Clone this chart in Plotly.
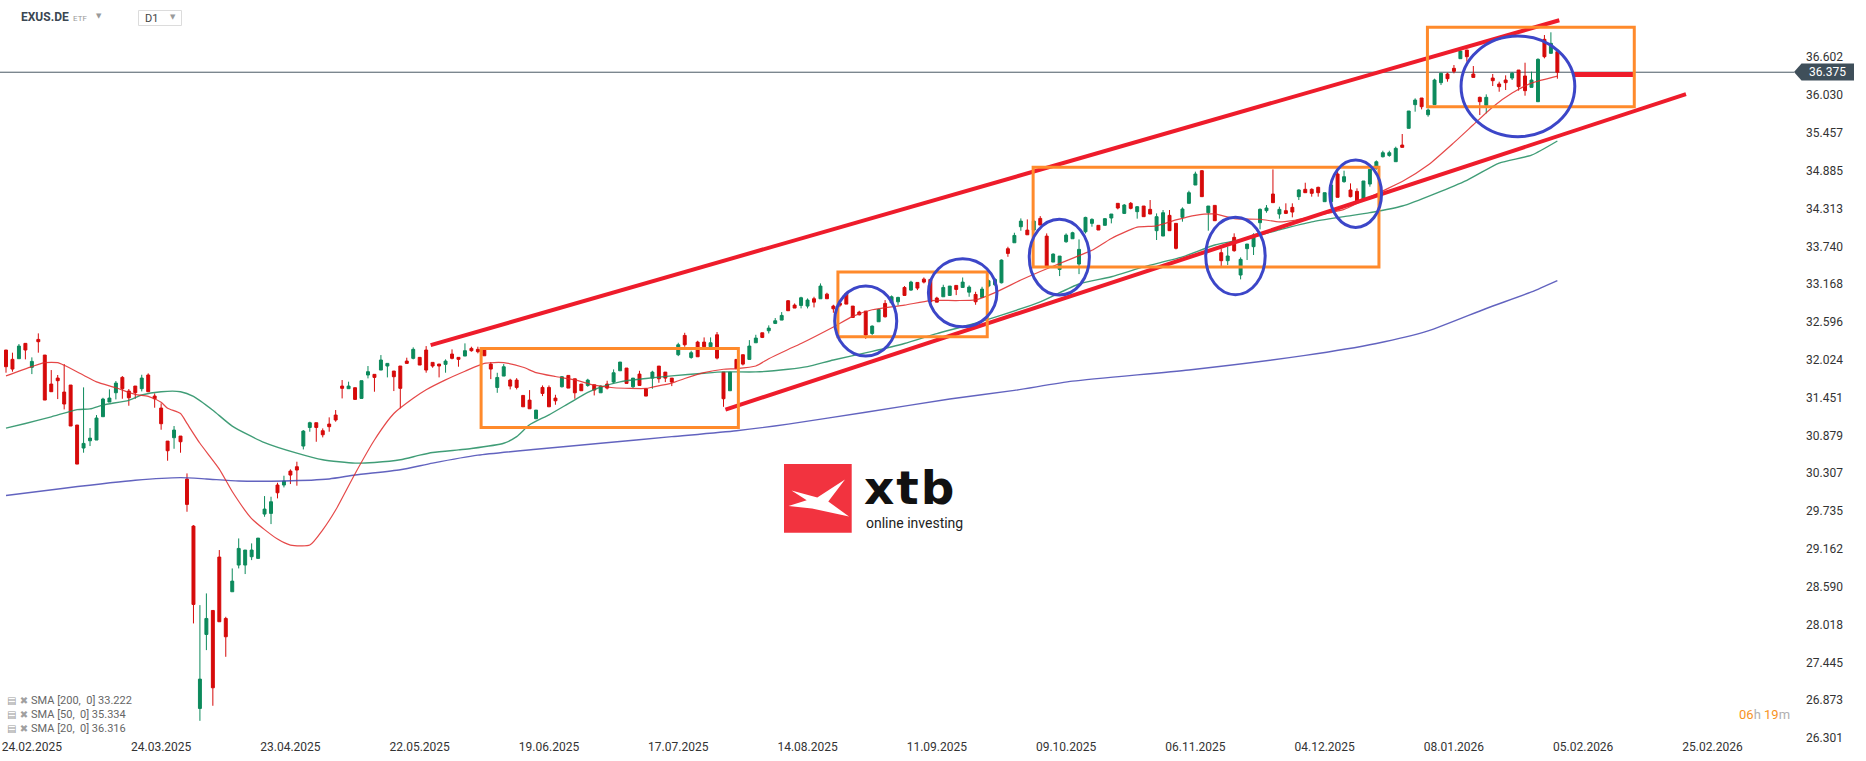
import plotly.graph_objects as go

# ---------------- data ----------------
opens = [32.171, 32.030, 32.040, 32.272, 31.909, 32.332, 32.095, 31.656, 31.747, 31.535,
         31.641, 31.036, 30.688, 30.798, 30.809, 31.162, 31.384, 31.525, 31.757, 31.550,
         31.626, 31.586, 31.793, 31.475, 31.293, 30.793, 30.844, 30.869, 30.218, 29.507,
         26.747, 27.867, 28.230, 29.038, 28.109, 28.513, 28.917, 28.917, 29.043, 29.018,
         29.689, 29.699, 30.128, 30.128, 30.339, 30.405, 30.718, 30.999, 31.071, 30.950,
         31.051, 31.187, 31.626, 31.586, 31.601, 31.439, 31.793, 31.803, 31.868, 31.929,
         31.853, 31.929, 32.004, 32.045, 32.060, 32.171, 31.984, 31.959, 31.954, 32.110,
         32.060, 32.080, 32.196, 32.181, 32.170, 31.958, 31.605, 31.777, 31.716, 31.716,
         31.484, 31.413, 31.131, 31.605, 31.605, 31.444, 31.615, 31.787, 31.736, 31.656,
         31.635, 31.645, 31.524, 31.656, 31.686, 31.857, 31.898, 31.615, 31.807, 31.585,
         31.746, 31.928, 31.837, 31.746, 32.100, 32.392, 32.059, 32.291, 32.291, 32.221,
         32.402, 31.837, 31.555, 32.029, 32.100, 32.029, 32.281, 32.432, 32.463, 32.574,
         32.624, 32.917, 32.851, 32.846, 32.836, 32.947, 32.947, 33.017, 32.836, 32.880,
         33.028, 32.836, 32.745, 32.760, 32.422, 32.599, 32.876, 32.886, 32.901, 33.118,
         33.078, 33.194, 33.244, 33.239, 32.957, 32.977, 32.997, 33.149, 33.118, 33.047,
         33.012, 32.967, 33.139, 33.159, 33.189, 33.704, 33.794, 34.037, 33.986, 33.986,
         34.163, 33.895, 33.502, 33.391, 33.810, 33.855, 33.472, 33.961, 34.088, 34.058,
         34.058, 34.169, 34.391, 34.239, 34.391, 34.265, 34.350, 34.300, 33.977, 33.896,
         34.209, 34.088, 34.179, 34.391, 34.668, 34.885, 34.249, 34.360, 33.644, 33.523,
         33.876, 33.306, 33.705, 33.735, 34.098, 34.280, 34.532, 34.229, 34.280, 34.330,
         34.492, 34.603, 34.603, 34.633, 34.416, 34.416, 34.835, 34.719, 34.593, 34.572,
         34.441, 34.683, 34.920, 35.096, 35.116, 35.021, 35.273, 35.526, 35.884, 35.985,
         35.732, 35.884, 36.217, 36.348, 36.434, 36.580, 36.711, 36.348, 35.995, 35.874,
         36.287, 36.197, 36.257, 36.287, 36.408, 36.318, 36.146, 35.929, 36.873, 36.661,
         36.686]
highs = [32.171, 32.131, 32.262, 32.272, 32.060, 32.423, 32.095, 31.868, 31.793, 31.959,
         31.641, 31.036, 31.606, 30.990, 31.187, 31.449, 31.576, 31.702, 31.777, 31.581,
         31.626, 31.797, 31.818, 31.515, 31.364, 30.793, 31.021, 30.869, 30.304, 29.522,
         28.311, 28.488, 28.230, 29.144, 28.134, 28.866, 29.320, 29.144, 29.245, 29.325,
         29.961, 29.951, 30.163, 30.269, 30.365, 30.481, 30.960, 31.086, 31.071, 30.985,
         31.152, 31.263, 31.717, 31.692, 31.601, 31.707, 31.929, 31.803, 32.095, 31.969,
         31.853, 31.929, 32.055, 32.211, 32.060, 32.231, 31.984, 31.959, 32.030, 32.181,
         32.060, 32.272, 32.221, 32.221, 32.170, 31.989, 31.827, 31.958, 31.736, 31.746,
         31.484, 31.565, 31.262, 31.635, 31.635, 31.494, 31.777, 31.787, 31.736, 31.656,
         31.736, 31.645, 31.635, 31.706, 31.878, 31.989, 31.898, 31.746, 31.857, 31.585,
         31.857, 31.928, 31.837, 31.746, 32.281, 32.432, 32.160, 32.311, 32.362, 32.362,
         32.443, 31.837, 31.837, 32.029, 32.100, 32.321, 32.402, 32.432, 32.544, 32.655,
         32.745, 32.927, 32.876, 32.977, 32.952, 32.977, 33.179, 33.038, 32.856, 32.900,
         33.048, 32.836, 32.765, 32.760, 32.543, 32.795, 32.927, 32.997, 32.977, 33.139,
         33.219, 33.194, 33.269, 33.239, 32.977, 33.159, 33.139, 33.149, 33.269, 33.149,
         33.053, 33.128, 33.239, 33.259, 33.542, 33.734, 33.946, 34.163, 34.148, 34.140,
         34.198, 33.936, 33.633, 33.593, 33.936, 33.961, 33.845, 34.188, 34.164, 34.058,
         34.169, 34.229, 34.391, 34.381, 34.411, 34.350, 34.350, 34.441, 34.239, 34.290,
         34.290, 34.088, 34.330, 34.582, 34.870, 34.895, 34.350, 34.360, 33.710, 33.735,
         33.937, 33.573, 33.775, 33.937, 34.315, 34.365, 34.905, 34.340, 34.391, 34.391,
         34.603, 34.703, 34.618, 34.643, 34.552, 34.719, 34.895, 34.885, 34.693, 34.618,
         34.729, 34.905, 35.040, 35.187, 35.187, 35.248, 35.440, 35.788, 35.980, 35.985,
         35.828, 36.277, 36.368, 36.368, 36.484, 36.711, 36.711, 36.469, 36.005, 36.040,
         36.348, 36.232, 36.328, 36.378, 36.408, 36.519, 36.383, 36.585, 36.938, 36.979,
         36.686]
lows = [31.828, 31.843, 32.040, 32.030, 31.807, 32.131, 31.414, 31.540, 31.429, 31.273,
        31.021, 30.445, 30.617, 30.718, 30.809, 31.162, 31.384, 31.424, 31.434, 31.328,
        31.434, 31.545, 31.540, 31.298, 30.965, 30.496, 30.677, 30.617, 29.724, 28.034,
        26.560, 27.630, 26.788, 28.059, 27.529, 28.513, 28.866, 28.781, 28.992, 29.018,
        29.648, 29.537, 29.926, 30.092, 30.143, 30.118, 30.667, 30.935, 30.783, 30.849,
        30.935, 31.086, 31.439, 31.586, 31.424, 31.439, 31.742, 31.540, 31.868, 31.757,
        31.550, 31.288, 31.969, 32.030, 31.944, 31.828, 31.903, 31.757, 31.828, 32.030,
        31.919, 32.080, 32.146, 32.121, 32.084, 31.731, 31.524, 31.777, 31.575, 31.575,
        31.312, 31.282, 31.131, 31.474, 31.312, 31.343, 31.605, 31.595, 31.434, 31.555,
        31.615, 31.484, 31.524, 31.575, 31.666, 31.857, 31.666, 31.595, 31.635, 31.474,
        31.585, 31.676, 31.686, 31.625, 32.079, 32.221, 32.039, 32.069, 32.221, 32.221,
        32.029, 31.312, 31.555, 31.888, 31.938, 32.029, 32.281, 32.352, 32.422, 32.564,
        32.624, 32.766, 32.806, 32.801, 32.801, 32.816, 32.947, 32.947, 32.735, 32.820,
        32.866, 32.664, 32.695, 32.341, 32.397, 32.599, 32.664, 32.866, 32.846, 32.997,
        33.068, 33.078, 33.179, 32.901, 32.896, 32.977, 32.997, 33.002, 33.118, 32.977,
        32.856, 32.967, 33.118, 33.139, 33.179, 33.582, 33.794, 33.976, 33.915, 33.960,
        34.062, 33.441, 33.502, 33.290, 33.794, 33.855, 33.320, 33.935, 34.037, 33.987,
        34.058, 34.088, 34.300, 34.229, 34.300, 34.159, 34.189, 34.229, 33.836, 33.896,
        33.977, 33.694, 34.113, 34.391, 34.668, 34.492, 33.977, 34.128, 33.442, 33.457,
        33.659, 33.240, 33.533, 33.609, 33.997, 34.249, 34.401, 34.159, 34.229, 34.179,
        34.441, 34.552, 34.492, 34.492, 34.416, 34.416, 34.482, 34.703, 34.481, 34.401,
        34.441, 34.643, 34.900, 35.086, 35.096, 35.021, 35.238, 35.526, 35.778, 35.813,
        35.702, 35.884, 36.181, 36.232, 36.358, 36.580, 36.535, 36.297, 35.727, 35.753,
        36.166, 36.080, 36.106, 36.257, 36.096, 36.020, 36.146, 35.929, 36.585, 36.661,
        36.277]
closes = [31.919, 31.883, 32.231, 32.171, 31.999, 32.297, 31.414, 31.540, 31.707, 31.354,
          31.021, 30.445, 30.758, 30.838, 31.142, 31.429, 31.444, 31.671, 31.586, 31.449,
          31.525, 31.747, 31.540, 31.434, 31.056, 30.647, 30.960, 30.783, 29.835, 28.321,
          27.191, 28.109, 27.060, 28.059, 27.832, 28.674, 29.169, 29.144, 29.144, 29.325,
          29.764, 29.875, 30.011, 30.188, 30.279, 30.355, 30.944, 31.071, 30.999, 30.889,
          31.011, 31.112, 31.591, 31.626, 31.424, 31.707, 31.843, 31.757, 32.020, 31.969,
          31.767, 31.591, 31.969, 32.181, 31.944, 31.868, 31.929, 31.929, 32.004, 32.045,
          32.030, 32.161, 32.161, 32.146, 32.084, 31.883, 31.756, 31.918, 31.625, 31.605,
          31.312, 31.282, 31.262, 31.514, 31.312, 31.403, 31.767, 31.595, 31.524, 31.555,
          31.716, 31.565, 31.625, 31.595, 31.827, 31.989, 31.666, 31.746, 31.635, 31.474,
          31.837, 31.736, 31.746, 31.686, 32.251, 32.251, 32.130, 32.069, 32.221, 32.281,
          32.049, 31.434, 31.837, 31.888, 31.958, 32.231, 32.352, 32.362, 32.503, 32.614,
          32.695, 32.766, 32.806, 32.962, 32.927, 32.896, 33.139, 32.947, 32.795, 32.850,
          32.866, 32.664, 32.705, 32.397, 32.533, 32.785, 32.674, 32.977, 32.967, 32.997,
          33.199, 33.108, 33.199, 32.901, 32.896, 33.118, 33.139, 33.088, 33.199, 33.123,
          32.901, 33.093, 33.219, 33.239, 33.532, 33.633, 33.905, 34.122, 33.915, 34.122,
          34.062, 33.441, 33.623, 33.593, 33.910, 33.946, 33.694, 34.178, 34.148, 33.987,
          34.159, 34.229, 34.320, 34.365, 34.315, 34.340, 34.189, 34.229, 34.189, 34.249,
          33.977, 33.710, 34.305, 34.552, 34.835, 34.492, 34.350, 34.128, 33.523, 33.594,
          33.674, 33.543, 33.775, 33.912, 34.300, 34.320, 34.401, 34.300, 34.239, 34.259,
          34.593, 34.552, 34.542, 34.552, 34.552, 34.668, 34.482, 34.794, 34.492, 34.411,
          34.729, 34.905, 35.020, 35.157, 35.157, 35.223, 35.238, 35.788, 35.954, 35.853,
          35.803, 36.257, 36.358, 36.277, 36.388, 36.696, 36.610, 36.297, 35.929, 35.995,
          36.247, 36.156, 36.217, 36.358, 36.156, 36.096, 36.257, 36.570, 36.610, 36.812,
          36.375]

sma20_bars = [0, 4, 6, 8, 9, 12, 14, 17, 20, 22, 24, 25, 27, 28, 30, 33, 35, 38, 42, 44,
              47, 49, 51, 54, 57, 60, 63, 65, 68, 71, 74, 77, 80, 82, 85, 88, 91, 94, 99, 100,
              103, 105, 108, 111, 113, 116, 118, 121, 123, 128, 131, 134, 139, 143, 147, 150,
              153, 157, 160, 164, 166, 168, 171, 175, 178, 181, 184, 187, 190, 194, 197, 199,
              202, 207, 210, 213, 216, 220, 224, 227, 230, 233, 236, 240]
sma20_vals = [31.78, 31.92, 31.98, 31.98, 31.94, 31.79, 31.69, 31.60, 31.50, 31.47, 31.38,
              31.29, 31.21, 31.06, 30.76, 30.37, 30.03, 29.62, 29.31, 29.22, 29.22, 29.45,
              29.75, 30.30, 30.81, 31.21, 31.44, 31.57, 31.72, 31.85, 31.97, 31.98, 31.91,
              31.83, 31.77, 31.72, 31.64, 31.60, 31.59, 31.61, 31.67, 31.74, 31.83, 31.88,
              31.89, 31.93, 32.04, 32.18, 32.27, 32.52, 32.68, 32.78, 32.85, 32.92, 32.92,
              32.93, 33.04, 33.23, 33.36, 33.52, 33.60, 33.68, 33.86, 34.03, 34.05, 34.14,
              34.21, 34.23, 34.16, 34.15, 34.11, 34.13, 34.19, 34.30, 34.44, 34.58, 34.72,
              34.97, 35.31, 35.58, 35.85, 36.06, 36.21, 36.316]

sma50_bars = [0, 3, 7, 11, 13, 15, 19, 21, 24, 27, 29, 32, 35, 40, 45, 49, 54, 57, 61, 64,
              66, 70, 72, 77, 79, 81, 84, 87, 90, 92, 95, 99, 103, 108, 111, 116, 121, 124,
              128, 134, 139, 144, 149, 154, 160, 166, 171, 176, 182, 187, 192, 197, 202, 207,
              211, 216, 226, 231, 236, 240]
sma50_vals = [30.99, 31.06, 31.16, 31.27, 31.28, 31.34, 31.41, 31.49, 31.54, 31.54, 31.47,
              31.26, 31.02, 30.77, 30.61, 30.51, 30.46, 30.47, 30.51, 30.58, 30.62, 30.66,
              30.68, 30.76, 30.86, 31.04, 31.19, 31.36, 31.53, 31.61, 31.69, 31.74, 31.78,
              31.82, 31.84, 31.84, 31.88, 31.92, 32.02, 32.15, 32.27, 32.42, 32.55, 32.70,
              32.90, 33.17, 33.28, 33.43, 33.58, 33.76, 33.86, 33.99, 34.11, 34.19, 34.25,
              34.35, 34.74, 35.00, 35.12, 35.334]

sma200_bars = [0, 9, 20, 27, 31, 36, 43, 50, 54, 61, 66, 73, 82, 92, 103, 113, 121, 133,
               146, 156, 165, 183, 201, 212, 220, 229, 236, 240]
sma200_vals = [29.97, 30.08, 30.20, 30.24, 30.22, 30.19, 30.19, 30.22, 30.28, 30.36, 30.46,
               30.58, 30.67, 30.76, 30.86, 30.95, 31.05, 31.23, 31.43, 31.56, 31.70, 31.87,
               32.09, 32.27, 32.46, 32.80, 33.05, 33.222]

x_tick_labels = ["24.02.2025", "24.03.2025", "23.04.2025", "22.05.2025", "19.06.2025",
                 "17.07.2025", "14.08.2025", "11.09.2025", "09.10.2025", "06.11.2025",
                 "04.12.2025", "08.01.2026", "05.02.2026", "25.02.2026"]
y_tick_labels = ["26.301", "26.873", "27.445", "28.018", "28.590", "29.162", "29.735",
                 "30.307", "30.879", "31.451", "32.024", "32.596", "33.168", "33.740",
                 "34.313", "34.885", "35.457", "36.030", "36.602"]

last_price = 36.375
sma_legend = [("SMA [200,\u00a0 0]", 33.222), ("SMA [50,\u00a0 0]", 35.334), ("SMA [20,\u00a0 0]", 36.316)]

# analysis drawings (bar index, price)
trend_upper = (65.7, 32.245, 240.3, 37.162)
trend_lower = (111.3, 31.27, 259.9, 36.045)
target_level = (242.4, 251.7, 36.34)
boxes = [(73.5, 31.000, 113.3, 32.196),
         (128.7, 32.372, 151.8, 33.351),
         (158.9, 33.427, 212.4, 34.936),
         (219.9, 35.853, 251.9, 37.055)]
ellipses = [(128.2, 32.080, 137.8, 33.139),
            (142.7, 32.523, 153.3, 33.552),
            (158.3, 33.003, 167.6, 34.149),
            (185.6, 33.007, 194.8, 34.179),
            (204.8, 34.027, 212.8, 35.046),
            (225.1, 35.399, 242.7, 36.923)]

# ---------------- figure ----------------
bars = list(range(len(closes)))
first_tick_bar, tick_step = 4, 20
tick_bars = [first_tick_bar + tick_step * k for k in range(len(x_tick_labels))]

W, H = 1866, 761
ML, MR, MT, MB = 0, 71, 0, 23
PW, PH = W - ML - MR, H - MT - MB
BAR_PX = 6.464
X0_PX = 6.0
x_range = [-X0_PX / BAR_PX, (PW - X0_PX) / BAR_PX]
y_range = [26.30, 37.468]


def px(xp):
    return (xp - ML) / PW


def py(yp):
    return 1 - (yp - MT) / PH


GREEN = "#0c8a5c"
RED = "#d60a0a"
FONT = "Roboto"

fig = go.Figure()
fig.add_trace(go.Scatter(x=sma200_bars, y=sma200_vals, mode="lines",
                         line=dict(color="rgba(70,72,180,0.85)", width=1.4, shape="spline", smoothing=0.6),
                         hoverinfo="skip"))
fig.add_trace(go.Scatter(x=sma50_bars, y=sma50_vals, mode="lines",
                         line=dict(color="rgba(30,140,95,0.85)", width=1.4, shape="spline", smoothing=0.6),
                         hoverinfo="skip"))
fig.add_trace(go.Scatter(x=sma20_bars, y=sma20_vals, mode="lines",
                         line=dict(color="rgba(225,40,40,0.85)", width=1.2, shape="spline", smoothing=0.6),
                         hoverinfo="skip"))
fig.add_trace(go.Candlestick(
    x=bars, open=opens, high=highs, low=lows, close=closes,
    increasing=dict(line=dict(color=GREEN, width=1), fillcolor=GREEN),
    decreasing=dict(line=dict(color=RED, width=1), fillcolor=RED),
    whiskerwidth=0,
))

shapes = []
# price line
shapes.append(dict(type="line", xref="paper", yref="y", x0=0, x1=px(1794), y0=last_price, y1=last_price,
                   line=dict(color="#4a5964", width=1), layer="below"))
# trend lines
for (xa, ya, xb, yb) in (trend_upper, trend_lower):
    shapes.append(dict(type="line", x0=xa, y0=ya, x1=xb, y1=yb, line=dict(color="#ee1c2b", width=4)))
shapes.append(dict(type="line", x0=target_level[0], x1=target_level[1], y0=target_level[2], y1=target_level[2],
                   line=dict(color="#ee1c2b", width=5)))
for (xa, ya, xb, yb) in boxes:
    shapes.append(dict(type="rect", x0=xa, y0=ya, x1=xb, y1=yb, line=dict(color="#ff8a2b", width=3)))
for (xa, ya, xb, yb) in ellipses:
    shapes.append(dict(type="circle", x0=xa, y0=ya, x1=xb, y1=yb, line=dict(color="#3c46c8", width=3)))

# price tag
tag = [(1794, 72), (1801.5, 63.5), (1854, 63.5), (1854, 80.5), (1801.5, 80.5)]
shapes.append(dict(type="path", xref="paper", yref="paper",
                   path="M " + " L ".join(f"{px(a):.5f},{py(b):.5f}" for a, b in tag) + " Z",
                   fillcolor="#3f4f5a", line=dict(width=0)))

# logo
shapes.append(dict(type="rect", xref="paper", yref="paper", x0=px(784), x1=px(851.7), y0=py(532.7), y1=py(464),
                   fillcolor="#f2333f", line=dict(width=0)))
xmark = [(791.5, 490.5), (817.3, 497.5), (845.0, 479.5), (828.3, 501.5), (849.0, 516.5),
         (812, 508.5), (788.5, 506.0), (806.7, 500.3)]
shapes.append(dict(type="path", xref="paper", yref="paper",
                   path="M " + " L ".join(f"{px(a):.5f},{py(b):.5f}" for a, b in xmark) + " Z",
                   fillcolor="white", line=dict(width=0)))

# D1 selector box
shapes.append(dict(type="rect", xref="paper", yref="paper", x0=px(138.5), x1=px(181.5), y0=py(25.5), y1=py(10.5),
                   line=dict(color="#dcdcdc", width=1), fillcolor="white"))

annotations = []
annotations.append(dict(xref="paper", yref="paper", x=px(1828), y=py(72), text=f"{last_price:.3f}",
                        font=dict(family=FONT, size=12, color="white"), showarrow=False,
                        xanchor="center", yanchor="middle"))
# logo word mark: box clipped just below the baseline (letters have no descenders)
annotations.append(dict(xref="paper", yref="paper", x=px(862), y=py(508),
                        text="<b><span style='letter-spacing:2px'>xtb</span></b>",
                        font=dict(family="DejaVu Sans", size=47, color="#111111"), showarrow=False,
                        xanchor="left", yanchor="bottom", height=46, valign="top"))
annotations.append(dict(xref="paper", yref="paper", x=px(864), y=py(523), text="online investing",
                        font=dict(family=FONT, size=14, color="#222222"), showarrow=False,
                        xanchor="left", yanchor="middle"))
# header
annotations.append(dict(xref="paper", yref="paper", x=px(19), y=py(17), text="<b>EXUS.DE</b>",
                        font=dict(family=FONT, size=12, color="#3b4752"), showarrow=False,
                        xanchor="left", yanchor="middle"))
annotations.append(dict(xref="paper", yref="paper", x=px(71), y=py(18), text="ETF",
                        font=dict(family=FONT, size=8, color="#9a9a9a"), showarrow=False,
                        xanchor="left", yanchor="middle"))
annotations.append(dict(xref="paper", yref="paper", x=px(99), y=py(16), text="▼",
                        font=dict(family="DejaVu Sans", size=7, color="#9a9a9a"), showarrow=False,
                        xanchor="center", yanchor="middle"))
annotations.append(dict(xref="paper", yref="paper", x=px(143), y=py(19), text="D1",
                        font=dict(family=FONT, size=11, color="#444444"), showarrow=False,
                        xanchor="left", yanchor="middle"))
annotations.append(dict(xref="paper", yref="paper", x=px(173), y=py(17), text="▼",
                        font=dict(family="DejaVu Sans", size=7, color="#9a9a9a"), showarrow=False,
                        xanchor="center", yanchor="middle"))
# SMA legend rows
for k, (name, val) in enumerate(sma_legend):
    yrow = 700 + 14 * k
    annotations.append(dict(xref="paper", yref="paper", x=px(5), y=py(yrow),
                            text="▤ ✖", font=dict(family="DejaVu Sans", size=10, color="#a0a0a0"),
                            showarrow=False, xanchor="left", yanchor="middle"))
    annotations.append(dict(xref="paper", yref="paper", x=px(29), y=py(yrow),
                            text=f"{name} {val:.3f}", font=dict(family=FONT, size=11, color="#666666"),
                            showarrow=False, xanchor="left", yanchor="middle"))
# countdown
annotations.append(dict(xref="paper", yref="paper", x=px(1792), y=py(714),
                        text="<span style='color:#f7931e'>06</span>h <span style='color:#f7931e'>19</span>m",
                        font=dict(family=FONT, size=13, color="#b0b0b0"), showarrow=False,
                        xanchor="right", yanchor="middle"))

fig.update_layout(
    width=W, height=H,
    margin=dict(l=ML, r=MR, t=MT, b=MB),
    paper_bgcolor="white", plot_bgcolor="white",
    showlegend=False,
    boxgap=0.35,
    shapes=shapes,
    annotations=annotations,
    xaxis=dict(range=x_range, tickvals=tick_bars, ticktext=x_tick_labels,
               showgrid=False, zeroline=False, showline=False, ticks="",
               tickfont=dict(family=FONT, size=12, color="#333333"),
               rangeslider=dict(visible=False), fixedrange=True),
    yaxis=dict(range=y_range, side="right", tickvals=[float(t) for t in y_tick_labels],
               ticktext=y_tick_labels, showgrid=False, zeroline=False, showline=False, ticks="",
               ticklabelstandoff=10,
               tickfont=dict(family=FONT, size=12, color="#333333"), fixedrange=True),
)

fig.write_html("out.html", config={"displayModeBar": False},
               post_script="document.body.style.margin='0';document.body.style.overflow='hidden';")
